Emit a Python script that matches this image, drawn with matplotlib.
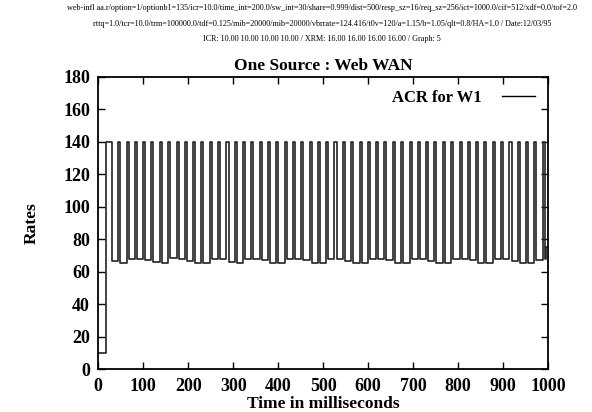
import matplotlib
matplotlib.use("Agg")
import matplotlib.pyplot as plt

# header lines of the simulation run
header = [
    "web-infl aa.r/option=1/optionb1=135/icr=10.0/time_int=200.0/sw_int=30/share=0.999/dist=500/resp_sz=16/req_sz=256/ict=1000.0/cif=512/xdf=0.0/tof=2.0",
    "rttq=1.0/tcr=10.0/trm=100000.0/tdf=0.125/mib=20000/mib=20000/vbrrate=124.416/t0v=120/a=1.15/b=1.05/qlt=0.8/HA=1.0 / Date:12/03/95",
    "ICR: 10.00 10.00 10.00 10.00 / XRM: 16.00 16.00 16.00 16.00 / Graph: 5",
]

# start-up: rate 10 until the first ramp, then a long first pulse
start_times = [0, 17, 18, 30]
start_rates = [10, 70, 140]

# start of every later pulse at 140 (ms) and how long it stays high
pulse_starts = [44, 63, 81, 100, 118, 137, 155, 174, 192, 211, 229, 248, 266,
                285, 303, 322, 340, 359, 377, 396, 414, 433, 451, 470, 488,
                507, 525, 544, 562, 581, 599, 618, 636, 655, 673, 692, 710,
                729, 747, 766, 784, 803, 821, 840, 858, 877, 895, 914, 932,
                951, 969, 988]
pulse_width = 4.5
high_rate = 140

# low level after each pulse (first entry follows the long first pulse)
low_rates = [66.8, 65.6, 67.9, 67.9, 67.3, 65.8, 65.4, 68.2, 67.6, 66.8, 65.6,
             65.6, 67.8, 67.8, 66.0, 65.5, 67.8, 67.8, 67.0, 65.6, 65.4, 67.8,
             67.6, 67.0, 65.6, 65.5, 67.8, 67.7, 66.8, 65.5, 65.4, 67.6, 67.8,
             67.2, 65.7, 65.5, 67.8, 67.7, 66.6, 65.6, 65.5, 67.8, 67.8, 67.0,
             65.6, 65.5, 67.7, 67.8, 66.8, 65.5, 65.6, 67.5, 67.8]

end_times = [996, 1000]
end_rates = [75, 75]

# build the step series
times = list(start_times)
rates = list(start_rates) + [low_rates[0]]
for p, low in zip(pulse_starts, low_rates[1:]):
    times += [p, p + pulse_width]
    rates += [high_rate, low]
times += end_times
rates += end_rates

serif = "Liberation Serif"

fig = plt.figure(figsize=(5.92, 4.12), dpi=100)
ax = fig.add_axes([0.166, 0.1036, 0.760, 0.710])

ax.plot(times, rates, color="#222222", lw=1.2, drawstyle="steps-post",
        label="ACR for W1")

ax.set_xlim(0, 1000)
ax.set_ylim(0, 180)
ax.set_xticks(range(0, 1001, 100))
ax.set_yticks(range(0, 181, 20))
ax.tick_params(direction="in", length=5, width=1, top=True, right=True,
               pad=6)
for lab in ax.get_xticklabels() + ax.get_yticklabels():
    lab.set_fontfamily(serif)
    lab.set_fontweight("bold")
    lab.set_fontsize(13)
for s in ax.spines.values():
    s.set_linewidth(1.3)

ax.set_xlabel("Time in milliseconds", fontfamily=serif, fontweight="bold",
              fontsize=12.5, labelpad=1)
ax.set_ylabel("Rates", fontfamily=serif, fontweight="bold", fontsize=12.5,
              labelpad=17)
ax.set_title("One Source : Web WAN", fontfamily=serif, fontweight="bold",
             fontsize=12.5, pad=5)

leg = ax.legend(loc="upper right", frameon=False, markerfirst=False,
                handlelength=2.0, borderaxespad=0.4, handletextpad=1.2,
                prop={"family": serif, "weight": "bold", "size": 12})
leg.get_lines()[0].set_color("black")
leg.get_lines()[0].set_linewidth(1.0)

for i, line in enumerate(header):
    fig.text(0.544, 1 - (8 + 15.5 * i) / 412, line, ha="center", va="center",
             fontfamily=serif, fontsize=5.9)

fig.savefig("out.png", dpi=100)
